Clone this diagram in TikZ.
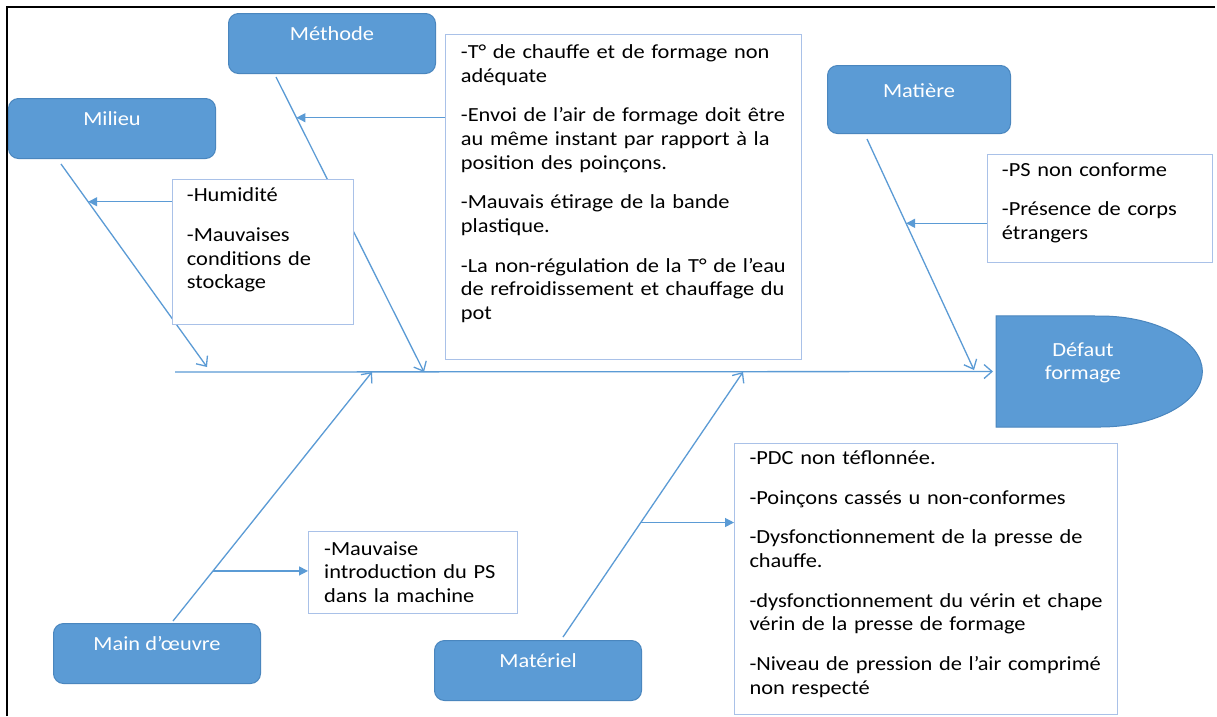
\documentclass[tikz,border=0pt]{standalone}
\usepackage{fontspec}
\setmainfont{Carlito}[FakeStretch=1.12]
\usetikzlibrary{arrows.meta}
\definecolor{catfill}{HTML}{5B9BD5}
\definecolor{catedge}{HTML}{4A86BE}
\definecolor{boneblue}{HTML}{5B9BD5}
\definecolor{noteedge}{HTML}{A9C1E8}

\begin{document}
\begin{tikzpicture}[x=1pt,y=-1pt,
  every node/.style={font=\fontsize{20}{23.7}\selectfont},
  catbox/.style={draw=catedge, line width=1pt, fill=catfill, rounded corners=10pt,
    text=white, inner sep=0pt, anchor=north west, minimum width=207pt,
    text height=27pt, text depth=33pt},
  notebox/.style={draw=noteedge, line width=1.2pt, fill=white, inner sep=0pt,
    anchor=north west},
  notetext/.style={anchor=base west, inner sep=0pt, align=left, text=black},
  bone/.style={draw=boneblue, line width=1.3pt,
    -{Straight Barb[length=8pt,width=14pt]}},
  branch/.style={draw=boneblue, line width=1.3pt,
    -{Triangle[length=9pt,width=9pt]}}]

\useasboundingbox (0,0) rectangle (1217,716);
\fill[white] (0,0) rectangle (1217,716);

% outer frame (top and left edges)
\draw[line width=2pt] (6.5,716) -- (6.5,6.5) -- (1215,6.5);

% category boxes
\node[catbox] (methode) at (228,13) {Méthode};
\node[catbox] (milieu) at (8,98) {Milieu};
\node[catbox, minimum width=183pt, text height=31.7pt, text depth=36.3pt]
  (matiere) at (827,65) {Matière};
\node[catbox] (mainoeuvre) at (53,623) {Main d’œuvre};
\node[catbox] (materiel) at (434,640) {Matériel};

% effect head
\node[minimum width=206pt, minimum height=111pt, inner sep=0pt, anchor=west]
  (effect) at (996,371.5) {};

% spine and its joints
\coordinate (tail) at (175,372);
\coordinate (jmilieu) at (207,367);
\coordinate (jmethode) at (424,372);
\coordinate (jmain) at (372,372);
\coordinate (jmateriel) at (743,372);
\coordinate (jmatiere) at (974,370);
\draw[bone, shorten >=3pt] (tail) -- (effect.west);

% bones
\draw[bone] ([xshift=53pt,yshift=-5pt]milieu.south west)
  -- coordinate[pos=0.186] (hmilieu) (jmilieu);
\draw[bone] ([xshift=48pt,yshift=-3pt]methode.south west)
  -- coordinate[pos=0.138] (hmethode) (jmethode);
\draw[bone] ([xshift=40pt,yshift=-5pt]matiere.south west)
  -- coordinate[pos=0.365] (hmatiere) (jmatiere);
\draw[bone] ([xshift=120pt,yshift=2pt]mainoeuvre.north west)
  -- coordinate[pos=0.201] (hmain) (jmain);
\draw[bone] ([xshift=129pt,yshift=3pt]materiel.north west)
  -- coordinate[pos=0.432] (hmateriel) (jmateriel);

% cause boxes
\node[notebox, minimum width=181pt, minimum height=145pt] (humidite) at (172,179) {};
\node[notebox, minimum width=356pt, minimum height=325pt] (methodenote) at (445,34) {};
\node[notebox, minimum width=225pt, minimum height=108pt] (matierenote) at (987,154) {};
\node[notebox, minimum width=209pt, minimum height=82pt] (mainnote) at (308,531) {};
\node[notebox, minimum width=383pt, minimum height=271pt] (materielnote) at (734,443) {};

% branches
\draw[branch] (hmilieu -| humidite.west) -- (hmilieu);
\draw[branch] (hmethode -| methodenote.west) -- (hmethode);
\draw[branch] (hmatiere -| matierenote.west) -- (hmatiere);
\draw[branch] (hmain) -- (hmain -| mainnote.west);
\draw[branch] (hmateriel) -- (hmateriel -| materielnote.west);

% cause texts
\node[notetext, text width=160pt] (humiditetext) at (186.7,201.7)
  {-Humidité\\[16pt]-Mauvaises\\conditions de\\stockage};
\node[notetext, text width=335pt] (methodetext) at (460.7,58.3)
  {-T° de chauffe et de formage non\\adéquate\\[16pt]-Envoi de l’air de formage doit être\\au même instant par rapport à la\\position des poinçons.\\[16pt]-Mauvais étirage de la bande\\plastique.\\[16pt]-La non-régulation de la T° de l’eau\\de refroidissement et chauffage du\\pot};
\node[notetext, text width=205pt] (matieretext) at (1001.7,176)
  {-PS non conforme\\[16pt]-Présence de corps\\étrangers};
\node[notetext, text width=190pt] (maintext) at (324,555)
  {-Mauvaise\\introduction du PS\\dans la machine};
\node[notetext, text width=365pt] (materieltext) at (749.3,464.3)
  {-PDC non téflonnée.\\[16pt]-Poinçons cassés u non-conformes\\[16pt]-Dysfonctionnement de la presse de\\chauffe.\\[16pt]-dysfonctionnement du vérin et chape\\vérin de la presse de formage\\[16pt]-Niveau de pression de l’air comprimé\\non respecté};

% effect shape
\draw[draw=catedge, line width=1pt, fill=catfill]
  (effect.south west) -- (effect.north west) -- (1100,316)
  .. controls (1156.2,316) and (1202,340.7) .. (effect.east)
  .. controls (1202,402.1) and (1156.2,427) .. (1100,427) -- cycle;
\node[anchor=base, inner sep=0pt, text width=150pt, align=center, text=white,
  font=\fontsize{20}{22.6}\selectfont] (effectlabel) at (1083,356.7)
  {Défaut\\formage};

\end{tikzpicture}
\end{document}
